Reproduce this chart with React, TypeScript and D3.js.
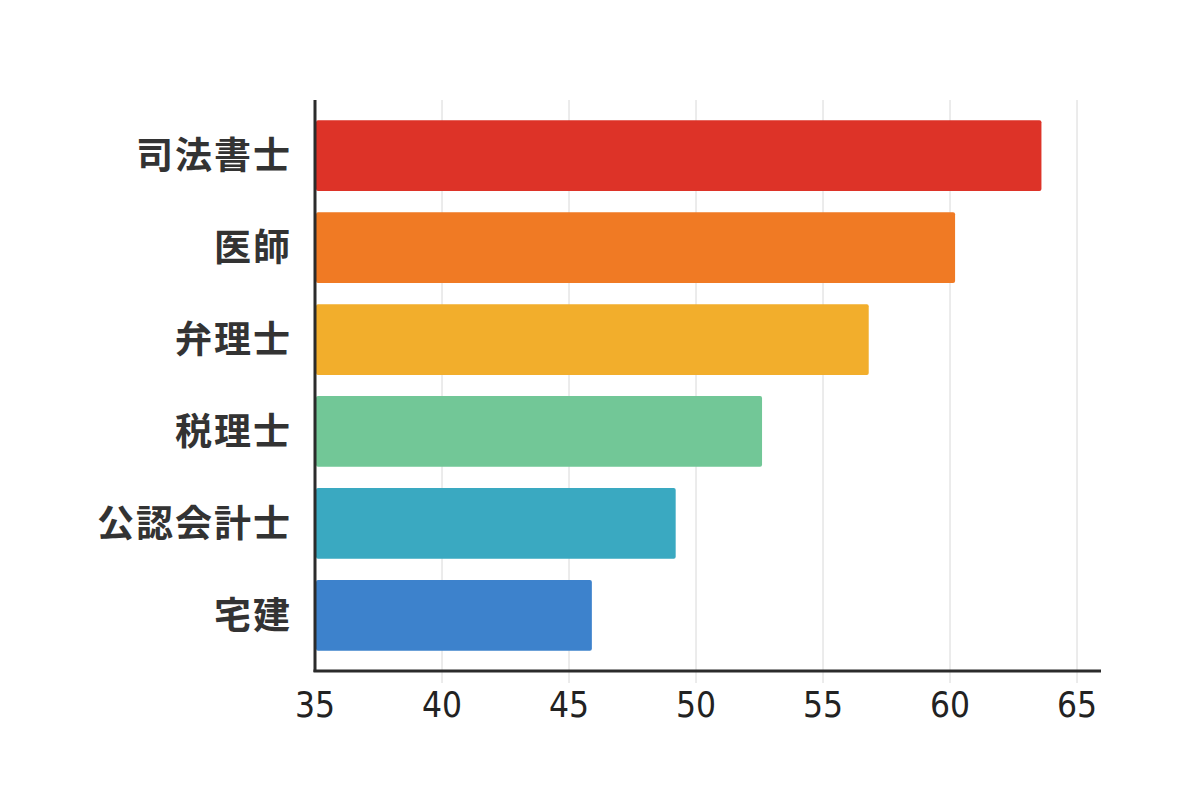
import React, { useEffect, useRef } from "react";
import * as d3 from "d3";

const categories = ["司法書士", "医師", "弁理士", "税理士", "公認会計士", "宅建"];
const values = [63.6, 60.2, 56.8, 52.6, 49.2, 45.9];
const colors = ["#dd3328", "#f07a24", "#f2ae2c", "#72c797", "#3aa9c1", "#3d82cc"];
const ticks = [35, 40, 45, 50, 55, 60, 65];

export default function App() {
  const ref = useRef<SVGSVGElement | null>(null);

  useEffect(() => {
    const svg = d3.select(ref.current);
    svg.selectAll("*").remove();

    const left = 315;
    const top = 100;
    const bottom = 671;

    const x = d3.scaleLinear().domain([35, 65]).range([left, 1077]);
    const y = d3
      .scaleBand()
      .domain(categories)
      .range([top, bottom])
      .paddingInner(0.23)
      .paddingOuter(0.22);

    // グリッド線
    svg
      .append("g")
      .selectAll("line")
      .data(ticks.slice(1))
      .enter()
      .append("line")
      .attr("x1", (d) => x(d))
      .attr("x2", (d) => x(d))
      .attr("y1", top)
      .attr("y2", bottom + 12)
      .attr("stroke", "#d8d8d8")
      .attr("stroke-width", 1);

    // 棒
    svg
      .append("g")
      .selectAll("rect")
      .data(categories)
      .enter()
      .append("rect")
      .attr("x", left + 1)
      .attr("y", (d) => Number(y(d)))
      .attr("width", (d, i) => x(values[i]) - left - 1)
      .attr("height", y.bandwidth())
      .attr("rx", 2)
      .attr("fill", (d, i) => colors[i]);

    // 軸線
    svg
      .append("line")
      .attr("x1", left)
      .attr("x2", left)
      .attr("y1", top)
      .attr("y2", bottom + 1)
      .attr("stroke", "#2b2b2b")
      .attr("stroke-width", 3);
    svg
      .append("line")
      .attr("x1", left - 1.5)
      .attr("x2", 1101)
      .attr("y1", bottom)
      .attr("y2", bottom)
      .attr("stroke", "#2b2b2b")
      .attr("stroke-width", 3);

    // 目盛りラベル
    svg
      .append("g")
      .selectAll("text")
      .data(ticks)
      .enter()
      .append("text")
      .attr("x", (d) => x(d))
      .attr("y", 717)
      .attr("text-anchor", "middle")
      .attr("font-family", "'Liberation Sans Narrow', 'DejaVu Sans Condensed', sans-serif")
      .attr("font-size", 35)
      .attr("fill", "#222")
      .text((d) => d);

    // カテゴリラベル
    svg
      .append("g")
      .selectAll("text")
      .data(categories)
      .enter()
      .append("text")
      .attr("x", 292)
      .attr("y", (d) => Number(y(d)) + y.bandwidth() / 2)
      .attr("dy", "0.36em")
      .attr("text-anchor", "end")
      .attr("font-family", "'Noto Sans CJK JP', sans-serif")
      .attr("font-weight", 700)
      .attr("font-size", 37)
      .attr("letter-spacing", 2)
      .attr("fill", "#333")
      .text((d) => d);
  }, []);

  return (
    <div style={{ width: 1200, height: 800, margin: -8, background: "#fff" }}>
      <svg ref={ref} width={1200} height={800} style={{ display: "block" }}></svg>
    </div>
  );
}
